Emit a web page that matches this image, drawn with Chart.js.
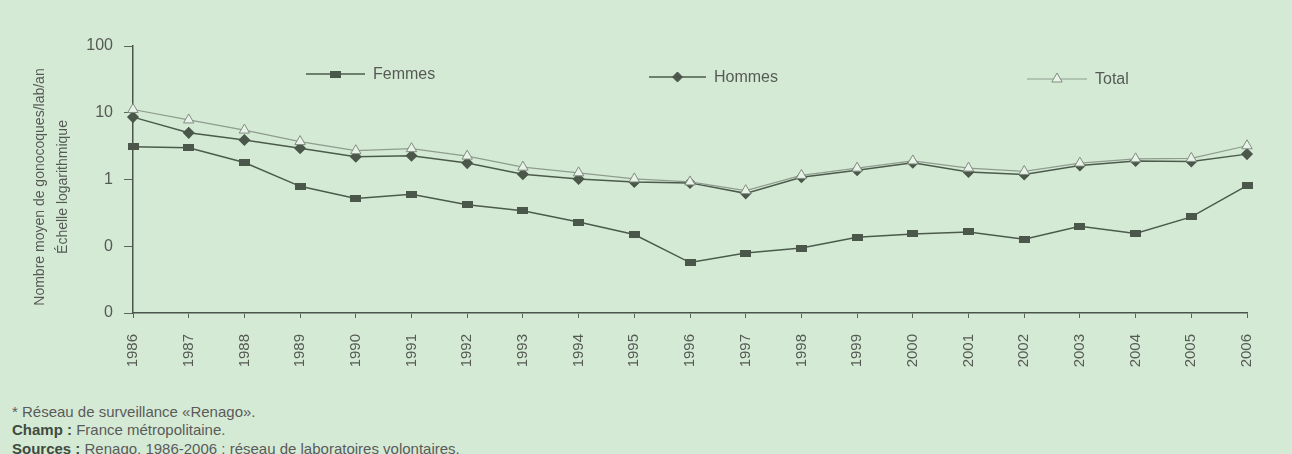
<!DOCTYPE html>
<html>
<head>
<meta charset="utf-8">
<script src="https://cdn.jsdelivr.net/npm/chart.js@4.4.1/dist/chart.umd.min.js"></script>
<style>
  html, body { margin: 0; padding: 0; background: #d5ead5; }
  body { width: 1292px; height: 454px; position: relative; overflow: hidden; font-family: "Liberation Sans", Arial, sans-serif; }
  #wrap { position: absolute; left: 0; top: 0; width: 1292px; height: 380px; }
  .note { position: absolute; left: 12px; font-size: 15px; line-height: 17px; color: #5a5a5a; white-space: nowrap; }
  .note b { color: #3f4a3f; }
</style>
</head>
<body>
<div id="wrap"><canvas id="c" width="1292" height="380"></canvas></div>
<div class="note" style="top:403px">* Réseau de surveillance «Renago».</div>
<div class="note" style="top:421px"><b>Champ :</b> France métropolitaine.</div>
<div class="note" style="top:440px"><b>Sources :</b> Renago, 1986-2006 ; réseau de laboratoires volontaires.</div>
<script>
const years = ['1986','1987','1988','1989','1990','1991','1992','1993','1994','1995','1996','1997','1998','1999','2000','2001','2002','2003','2004','2005','2006'];
const femmes = [3.1, 3.0, 1.8, 0.79, 0.52, 0.6, 0.42, 0.34, 0.23, 0.15, 0.057, 0.079, 0.094, 0.136, 0.153, 0.164, 0.127, 0.2, 0.155, 0.275, 0.81];
const hommes = [8.6, 5.0, 3.9, 2.95, 2.2, 2.27, 1.76, 1.2, 1.02, 0.92, 0.89, 0.62, 1.08, 1.38, 1.78, 1.3, 1.19, 1.62, 1.9, 1.86, 2.4];
const total  = [11.2, 7.8, 5.5, 3.7, 2.7, 2.9, 2.24, 1.53, 1.26, 1.02, 0.92, 0.68, 1.15, 1.48, 1.9, 1.48, 1.32, 1.76, 2.04, 2.07, 3.2];
const yTicks = [0.01, 0.1, 1, 10, 100];
const yTitle = ['Nombre moyen de gonocoques/lab/an', 'Échelle logarithmique'];
const legendLabels = ['Femmes', 'Hommes', 'Total'];

const dark = '#4b5b4b';
const lightLine = '#8e9c8e';
const textCol = '#555a55';
const FONT = '"Liberation Sans", Arial, sans-serif';

// rectangular marker for Femmes
const rectMarker = document.createElement('canvas');
rectMarker.width = 11; rectMarker.height = 7;
(function(){ const g = rectMarker.getContext('2d'); g.fillStyle = '#4a574a'; g.fillRect(0,0,11,7); })();

const overlay = {
  id: 'overlay',
  afterDraw(chart) {
    const ctx = chart.ctx;
    const ds = chart.data.datasets;
    ctx.save();
    ctx.fillStyle = textCol;
    ctx.font = '14px ' + FONT;
    ctx.textAlign = 'center';
    ctx.textBaseline = 'middle';
    ctx.translate(40, 187);
    ctx.rotate(-Math.PI/2);
    ctx.fillText(yTitle[0], 0, 0);
    ctx.fillText(yTitle[1], 0, 23);
    ctx.restore();
    const items = [
      {x1: 306, x2: 365, y: 74, tx: 373},
      {x1: 649, x2: 706, y: 77, tx: 714},
      {x1: 1027, x2: 1087, y: 79, tx: 1095}
    ];
    items.forEach((it, i) => {
      const d = ds[i];
      ctx.save();
      ctx.strokeStyle = d.borderColor;
      ctx.lineWidth = d.borderWidth;
      ctx.beginPath(); ctx.moveTo(it.x1, it.y); ctx.lineTo(it.x2, it.y); ctx.stroke();
      ctx.fillStyle = d.backgroundColor;
      ctx.strokeStyle = d.pointBorderColor;
      ctx.lineWidth = d.pointBorderWidth || 1;
      Chart.helpers.drawPoint(ctx, { pointStyle: d.pointStyle, radius: d.pointRadius, borderWidth: d.pointBorderWidth || 1, rotation: 0 }, (it.x1 + it.x2) / 2, it.y);
      ctx.fillStyle = textCol;
      ctx.font = '16px ' + FONT;
      ctx.textAlign = 'left';
      ctx.textBaseline = 'middle';
      ctx.fillText(legendLabels[i], it.tx, it.y + 1);
      ctx.restore();
    });
  }
};

new Chart(document.getElementById('c'), {
  type: 'line',
  data: {
    labels: years,
    datasets: [
      { label: legendLabels[0], data: femmes, borderColor: dark, borderWidth: 1.5,
        pointStyle: rectMarker, pointRadius: 5, backgroundColor: '#4a574a', pointBorderColor: '#4a574a', tension: 0, order: 3 },
      { label: legendLabels[1], data: hommes, borderColor: dark, borderWidth: 1.5,
        pointStyle: 'rectRot', pointRadius: 5, backgroundColor: '#4a574a', pointBorderColor: '#4a574a', tension: 0, order: 2 },
      { label: legendLabels[2], data: total, borderColor: lightLine, borderWidth: 1.2,
        pointStyle: 'triangle', pointRadius: 6, backgroundColor: '#e9f2e9', pointBorderColor: '#7f8c7f', pointBorderWidth: 1, tension: 0, order: 1 }
    ]
  },
  options: {
    responsive: false,
    animation: false,
    events: [],
    layout: { padding: { top: 46, right: 45, left: 0, bottom: 0 } },
    plugins: { legend: { display: false }, tooltip: { enabled: false } },
    scales: {
      x: {
        type: 'category',
        offset: false,
        grid: { drawOnChartArea: false, drawTicks: true, tickLength: 5, color: '#5a645a' },
        border: { display: true, color: '#4a544a', width: 1.5 },
        ticks: { minRotation: 90, maxRotation: 90, autoSkip: false, padding: 16, color: textCol,
                 font: { family: FONT, size: 15 } },
        afterFit(scale) { scale.height = 380 - 313; }
      },
      y: {
        type: 'logarithmic',
        min: 0.01, max: 100,
        afterBuildTicks(scale) { scale.ticks = yTicks.map(v => ({ value: v })); },
        grid: { drawOnChartArea: false, drawTicks: true, tickLength: 9, color: '#5a645a' },
        border: { display: true, color: '#4a544a', width: 1.5 },
        ticks: { padding: 11, color: textCol,
                 font: { family: FONT, size: 16 },
                 callback(v) { return v >= 1 ? String(v) : '0'; } },
        afterFit(scale) { scale.width = 133; }
      }
    }
  },
  plugins: [overlay]
});
</script>
</body>
</html>
